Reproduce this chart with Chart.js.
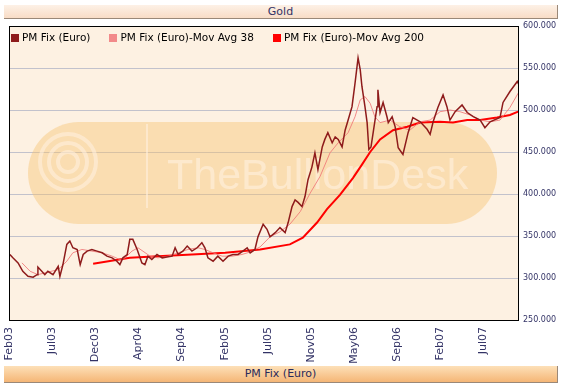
<!DOCTYPE html>
<html>
<head>
<meta charset="utf-8">
<script src="https://cdn.jsdelivr.net/npm/chart.js@4.4.0/dist/chart.umd.min.js"></script>
<style>
  body { margin: 0; background: #fff; width: 571px; height: 384px; overflow: hidden; font-family: "DejaVu Sans", Verdana, sans-serif; }
  .band { position: absolute; left: 4px; width: 553px; text-align: center; color: #333366; font-size: 11px; border-right: 1px solid #9a8878; border-bottom: 1px solid #9a8878; }
  #topBand { top: 5px; height: 13px; line-height: 13px; background: linear-gradient(#fdf1e6, #f8dcc6); }
  #bottomBand { top: 366px; height: 16px; line-height: 16px; background: linear-gradient(#fde0b8, #f5b676); color: #2a2a5a; }
  #wrap { position: absolute; left: 0; top: 0; width: 571px; height: 366px; }
  #legend { position: absolute; left: 11px; top: 31px; font-size: 10.5px; color: #000; white-space: nowrap; }
  #legend span.item { display: inline-block; margin-right: 19px; line-height: 12px; }
  #legend i { display: inline-block; width: 8px; height: 8px; margin-right: 3px; vertical-align: -0.5px; }
</style>
</head>
<body>
<div id="topBand" class="band">Gold</div>
<div id="wrap"><canvas id="goldChart"></canvas></div>
<div id="legend"></div>
<div id="bottomBand" class="band">PM Fix (Euro)</div>
<script>
// x = trading day index from first fix (Feb 2003), one tick label every 100 days
const tickLabels = ['Feb03', 'Jul03', 'Dec03', 'Apr04', 'Sep04', 'Feb05', 'Jul05', 'Nov05', 'May06', 'Sep06', 'Feb07', 'Jul07'];
const lastDay = 1182;

const fixDay = [2, 9, 21, 32, 44, 56, 65, 67, 76, 83, 90, 102, 114, 118, 125, 134, 141, 148, 158, 165, 172, 181, 192, 204, 216, 227, 239, 250, 257, 264, 274, 280, 287, 297, 308, 315, 322, 331, 343, 355, 366, 378, 385, 392, 403, 413, 424, 436, 447, 454, 461, 473, 484, 496, 508, 519, 531, 542, 552, 559, 570, 577, 589, 598, 605, 617, 628, 640, 647, 656, 663, 670, 679, 686, 693, 702, 709, 716, 726, 732, 739, 749, 756, 763, 772, 779, 786, 795, 802, 809, 814, 818, 825, 830, 834, 839, 844, 853, 855, 860, 867, 876, 879, 888, 895, 902, 913, 925, 936, 953, 969, 976, 983, 994, 1006, 1015, 1022, 1034, 1050, 1062, 1076, 1092, 1103, 1115, 1138, 1145, 1161, 1178, 1182];
const fixVal = [328, 324, 318, 308, 302, 301, 304, 313, 308, 304, 308, 304, 314, 302, 316, 340, 344, 336, 334, 316, 328, 332, 334, 332, 330, 326, 324, 320, 316, 324, 328, 346, 346, 334, 318, 316, 326, 322, 328, 324, 325, 326, 336, 328, 332, 338, 332, 336, 342, 336, 324, 320, 326, 320, 326, 328, 328, 332, 336, 330, 334, 349, 364, 358, 349, 354, 360, 354, 366, 385, 393, 390, 385, 397, 417, 432, 449, 429, 456, 465, 473, 461, 468, 465, 456, 476, 488, 504, 532, 562, 548, 528, 504, 485, 453, 456, 473, 504, 524, 497, 509, 492, 485, 492, 480, 455, 447, 473, 491, 486, 477, 471, 486, 503, 518, 504, 488, 498, 506, 497, 492, 488, 479, 486, 491, 509, 522, 534, 530];

const ma38Day = [30, 49, 67, 90, 114, 134, 148, 169, 192, 216, 239, 257, 269, 285, 299, 327, 345, 369, 392, 415, 438, 454, 473, 494, 517, 540, 559, 582, 605, 628, 651, 675, 698, 721, 744, 763, 786, 802, 814, 825, 837, 848, 860, 883, 906, 929, 953, 976, 999, 1022, 1045, 1069, 1092, 1115, 1138, 1161, 1180];
const ma38Val = [318, 308, 304, 307, 310, 320, 330, 334, 332, 330, 326, 322, 324, 332, 336, 326, 324, 326, 330, 334, 336, 334, 330, 326, 326, 328, 331, 337, 349, 355, 364, 379, 401, 421, 449, 461, 473, 492, 512, 516, 508, 492, 485, 488, 480, 476, 486, 488, 498, 500, 498, 494, 488, 486, 488, 503, 520];

const ma200Day = [195, 280, 345, 424, 501, 582, 651, 681, 714, 737, 767, 797, 818, 837, 860, 890, 923, 953, 999, 1029, 1062, 1092, 1131, 1161, 1180];
const ma200Val = [317, 324, 326, 328, 330, 334, 340, 348, 366, 382, 399, 419, 435, 450, 465, 476, 480, 485, 486, 485, 488, 488, 491, 494, 498];

function toPoints(days, vals) {
    return days.map((d, i) => ({ x: d, y: vals[i] }));
}

// cream plot background, watermark and black plot frame
const plotDecor = {
    id: 'plotDecor',
    beforeDraw(chart) {
        const { ctx, chartArea: a } = chart;
        ctx.save();
        ctx.fillStyle = '#fdf1e2';
        ctx.fillRect(a.left, a.top, a.right - a.left, a.bottom - a.top);
        ctx.restore();
    },
    beforeDatasetsDraw(chart) {
        const { ctx, chartArea: a } = chart;
        const x0 = a.left + 19, x1 = a.left + 488, y0 = a.top + 96, y1 = a.top + 198;
        const r = (y1 - y0) / 2;
        ctx.save();
        ctx.fillStyle = 'rgba(245, 194, 110, 0.42)';
        ctx.beginPath();
        ctx.moveTo(x0 + r, y0);
        ctx.lineTo(x1 - r, y0);
        ctx.arc(x1 - r, y0 + r, r, -Math.PI / 2, Math.PI / 2);
        ctx.lineTo(x0 + r, y1);
        ctx.arc(x0 + r, y0 + r, r, Math.PI / 2, Math.PI * 1.5);
        ctx.fill();
        // logo rings
        const cx = a.left + 59, cy = a.top + 136;
        ctx.strokeStyle = 'rgba(255, 240, 222, 0.6)';
        ctx.lineWidth = 4;
        [28, 19, 10].forEach(rad => {
            ctx.beginPath();
            ctx.arc(cx, cy, rad, 0, Math.PI * 2);
            ctx.stroke();
        });
        ctx.lineWidth = 2;
        ctx.beginPath();
        ctx.moveTo(a.left + 138, y0 + 2);
        ctx.lineTo(a.left + 138, y1 - 16);
        ctx.stroke();
        ctx.fillStyle = 'rgba(255, 240, 222, 0.62)';
        ctx.font = '43px "Liberation Sans", Arial, sans-serif';
        ctx.textBaseline = 'alphabetic';
        ctx.fillText('TheBullionDesk', a.left + 158, a.top + 163);
        ctx.restore();
    },
    afterDraw(chart) {
        const { ctx, chartArea: a } = chart;
        ctx.save();
        ctx.strokeStyle = '#000';
        ctx.lineWidth = 1;
        ctx.strokeRect(a.left + 0.5, a.top + 0.5, a.right - a.left - 1, a.bottom - a.top);
        ctx.restore();
    }
};

const ctx = document.getElementById('goldChart');
const chart = new Chart(ctx, {
    type: 'line',
    data: {
        datasets: [{
            label: 'PM Fix (Euro)',
            data: toPoints(fixDay, fixVal),
            borderColor: '#8e1b1b',
            backgroundColor: '#8e1b1b',
            borderWidth: 1.5,
        }, {
            label: 'PM Fix (Euro)-Mov Avg 38',
            data: toPoints(ma38Day, ma38Val),
            borderColor: 'rgba(240, 120, 120, 0.85)',
            backgroundColor: '#f28a8a',
            borderWidth: 1,
        }, {
            label: 'PM Fix (Euro)-Mov Avg 200',
            data: toPoints(ma200Day, ma200Val),
            borderColor: '#ff0000',
            backgroundColor: '#ff0000',
            borderWidth: 2,
        }]
    },
    options: {
        responsive: true,
        maintainAspectRatio: false,
        animation: false,
        elements: {
            point: { radius: 0 },
            line: { tension: 0 }
        },
        layout: {
            padding: { left: 9, top: 26, right: 0, bottom: 0 }
        },
        plugins: {
            tooltip: { enabled: false },
            legend: { display: false }
        },
        scales: {
            x: {
                type: 'linear',
                min: 0,
                max: lastDay,
                grid: { display: false, drawTicks: false },
                border: { display: false },
                afterFit: (scale) => { scale.height = 46; },
                ticks: {
                    stepSize: 100,
                    autoSkip: false,
                    maxRotation: 90,
                    minRotation: 90,
                    padding: 7,
                    color: '#333366',
                    font: { family: '"DejaVu Sans", Verdana, sans-serif', size: 11 },
                    callback: (v) => (v % 100 === 0 && tickLabels[v / 100]) ? tickLabels[v / 100] : ''
                }
            },
            y: {
                position: 'right',
                min: 250,
                max: 600,
                grid: { color: '#c2c2cc', drawTicks: false },
                border: { display: false },
                afterFit: (scale) => { scale.width = 52; },
                ticks: {
                    stepSize: 50,
                    padding: 4,
                    color: '#333366',
                    font: { family: '"DejaVu Sans", Verdana, sans-serif', size: 8 },
                    callback: (v) => v.toFixed(3)
                }
            }
        }
    },
    plugins: [plotDecor]
});

// legend row inside the top of the plot box
const legendEl = document.getElementById('legend');
legendEl.innerHTML = chart.data.datasets.map(ds =>
    `<span class="item"><i style="background:${ds.backgroundColor}"></i>${ds.label}</span>`
).join('');
</script>
</body>
</html>
